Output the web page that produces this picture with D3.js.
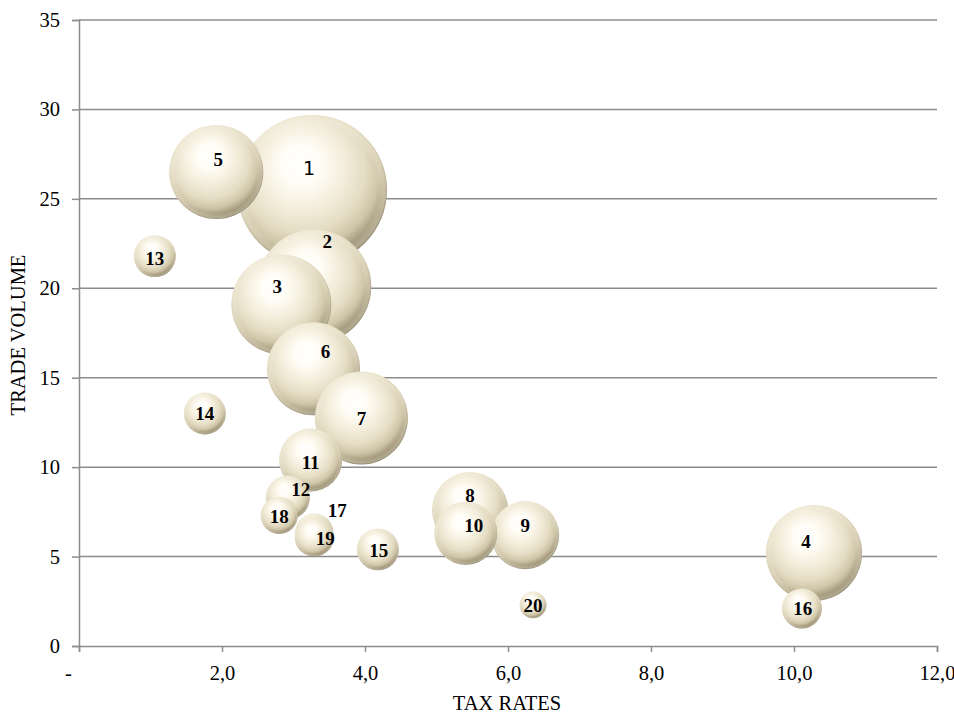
<!DOCTYPE html>
<html>
<head>
<meta charset="utf-8">
<script src="https://cdn.jsdelivr.net/npm/d3@7"></script>
<style>
  html, body { margin: 0; padding: 0; background: #fff; }
  svg { display: block; }
</style>
</head>
<body>
<svg id="chart" width="954" height="713"></svg>
<script>
// Point identifiers shown inside each bubble
const ids = [1, 2, 3, 4, 5, 6, 7, 8, 9, 10, 11, 12, 13, 14, 15, 16, 17, 18, 19, 20];
// Horizontal position: tax rate
const taxRates = [3.26, 3.29, 2.83, 10.28, 1.92, 3.28, 3.95, 5.47, 6.24, 5.41,
                  3.24, 2.92, 1.06, 1.76, 4.18, 10.11, 3.29, 2.80, 3.29, 6.35];
// Vertical position: trade volume
const tradeVolumes = [25.5, 20.1, 19.1, 5.2, 26.5, 15.5, 12.75, 7.6, 6.2, 6.3,
                      10.4, 8.3, 21.8, 13.0, 5.4, 2.1, 6.35, 7.3, 6.1, 2.3];
// Bubble size (area-proportional)
const sizes = [100, 57.8, 44.4, 41, 39.3, 38.4, 38.4, 25.7, 20.6, 17.6,
               17.6, 8.6, 7.8, 7.8, 7.8, 7.1, 6.4, 6.1, 6.8, 3.2];

const xTickValues = [0, 2, 4, 6, 8, 10, 12];
const xTickLabels = ["-", "2,0", "4,0", "6,0", "8,0", "10,0", "12,0"];
const yTickValues = [0, 5, 10, 15, 20, 25, 30, 35];
const yTickLabels = ["0", "5", "10", "15", "20", "25", "30", "35"];

// Manual label placement tweaks (px) for data labels
const labelNudge = {
  1: [-3, -22], 2: [13, -45], 3: [-4, -18], 4: [-8, -12], 5: [2, -13],
  6: [12, -17], 8: [0, -15], 9: [0, -10], 10: [8, -8], 11: [0, 2],
  12: [13, -8], 13: [0, 2], 15: [1, 1], 16: [1, 0], 17: [23, -22],
  18: [0, 1], 19: [11, 1]
};

const points = ids.map((id, i) => ({
  id, x: taxRates[i], y: tradeVolumes[i], size: sizes[i]
}));

const svg = d3.select("#chart");
const plotLeft = 79, plotRight = 937, plotTop = 20, plotBottom = 646;

const x = d3.scaleLinear().domain([0, 12]).range([plotLeft, plotRight]);
const y = d3.scaleLinear().domain([0, 35]).range([plotBottom, plotTop]);
const r = d3.scaleSqrt().domain([0, 100]).range([0, 75]);

const axisColor = "#8c8c8c";
const serif = "'Liberation Serif', 'Times New Roman', serif";

// Sphere-like shading: light from the upper left, darker toward lower right
const defs = svg.append("defs");
const grad = defs.append("radialGradient")
  .attr("id", "ball")
  .attr("cx", "44%").attr("cy", "38%").attr("r", "64%")
  .attr("fx", "42%").attr("fy", "32%");
[
  [0, "#ffffff"], [0.2, "#fffdf6"], [0.45, "#f3eddb"],
  [0.66, "#e4dcc3"], [0.8, "#cfc5a8"], [0.9, "#a99e80"], [1, "#7f755c"]
].forEach(([o, c]) => grad.append("stop").attr("offset", o).attr("stop-color", c));

// Soft light reflection along the lower rim
const rim = defs.append("radialGradient")
  .attr("id", "rim")
  .attr("cx", "50%").attr("cy", "50%").attr("r", "50%");
[
  [0, "#ffffff", 0], [0.88, "#ffffff", 0], [0.97, "#f4eedb", 0.35], [1, "#f4eedb", 0.1]
].forEach(([o, c, a]) => rim.append("stop").attr("offset", o)
  .attr("stop-color", c).attr("stop-opacity", a));

// Horizontal gridlines
svg.append("g")
  .selectAll("line")
  .data(yTickValues.filter(v => v > 0))
  .join("line")
  .attr("x1", plotLeft).attr("x2", plotRight)
  .attr("y1", d => y(d)).attr("y2", d => y(d))
  .attr("stroke", axisColor).attr("stroke-width", 1.5);

// Y axis
const yAxis = svg.append("g")
  .attr("transform", `translate(${plotLeft},0)`)
  .call(d3.axisLeft(y).tickValues(yTickValues)
    .tickFormat((d, i) => yTickLabels[i]).tickSize(7).tickPadding(12));
yAxis.select(".domain").attr("stroke", axisColor).attr("stroke-width", 1.5);
yAxis.selectAll(".tick line").attr("stroke", axisColor).attr("stroke-width", 1.5);
yAxis.selectAll("text").attr("font-family", serif).attr("font-size", 20.5).attr("fill", "#000");

// X axis
const xAxis = svg.append("g")
  .attr("transform", `translate(0,${plotBottom})`)
  .call(d3.axisBottom(x).tickValues(xTickValues)
    .tickFormat((d, i) => xTickLabels[i]).tickSize(6).tickPadding(13));
xAxis.select(".domain").attr("stroke", axisColor).attr("stroke-width", 1.5);
xAxis.selectAll(".tick line").attr("stroke", axisColor).attr("stroke-width", 1.5);
xAxis.selectAll("text").attr("font-family", serif).attr("font-size", 20.5).attr("fill", "#000")
  .attr("dx", d => d === 0 ? -11 : 0);

// Bubbles
const g = svg.append("g");
const bubble = g.selectAll("g.bubble")
  .data(points)
  .join("g")
  .attr("class", "bubble");
bubble.append("circle")
  .attr("cx", d => x(d.x))
  .attr("cy", d => y(d.y))
  .attr("r", d => r(d.size))
  .attr("fill", "url(#ball)");
bubble.append("circle")
  .attr("cx", d => x(d.x))
  .attr("cy", d => y(d.y))
  .attr("r", d => r(d.size))
  .attr("fill", "url(#rim)");

// Data labels
g.selectAll("text")
  .data(points)
  .join("text")
  .attr("x", d => x(d.x) + (labelNudge[d.id] ? labelNudge[d.id][0] : 0))
  .attr("y", d => y(d.y) + (labelNudge[d.id] ? labelNudge[d.id][1] : 0))
  .attr("dy", "0.35em")
  .attr("text-anchor", "middle")
  .attr("font-family", d => d.id === 1 ? "'DejaVu Sans', sans-serif" : serif)
  .attr("font-weight", d => d.id === 1 ? "normal" : "bold")
  .attr("font-size", d => d.id === 1 ? 19 : 19)
  .attr("fill", "#000")
  .text(d => d.id);

// Axis titles
svg.append("text")
  .attr("x", 507).attr("y", 710)
  .attr("text-anchor", "middle")
  .attr("font-family", serif).attr("font-size", 20.5)
  .text("TAX RATES");

svg.append("text")
  .attr("transform", "translate(25,335) rotate(-90)")
  .attr("text-anchor", "middle")
  .attr("font-family", serif).attr("font-size", 20.5)
  .text("TRADE VOLUME");
</script>
</body>
</html>
